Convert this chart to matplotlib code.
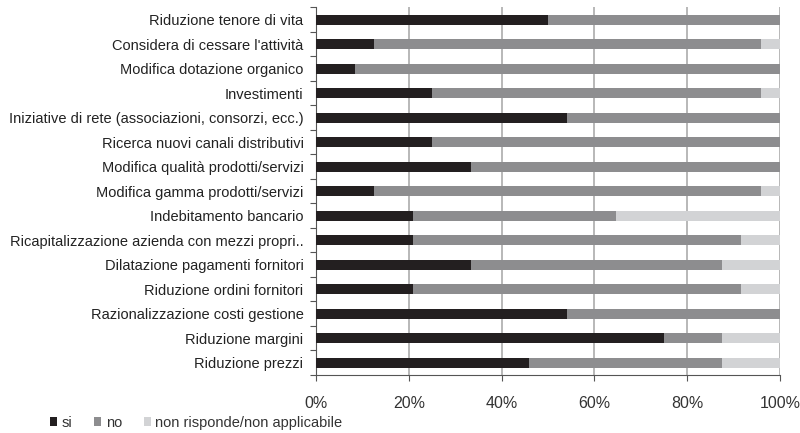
import numpy as np
import matplotlib.pyplot as plt
import matplotlib as mpl
from matplotlib.patches import Patch

plt.rcParams['font.family'] = ['Liberation Sans', 'DejaVu Sans']

categories = [
    'Riduzione tenore di vita',
    "Considera di cessare l'attività",
    'Modifica dotazione organico',
    'Investimenti',
    'Iniziative di rete (associazioni, consorzi, ecc.)',
    'Ricerca nuovi canali distributivi',
    'Modifica qualità prodotti/servizi',
    'Modifica gamma prodotti/servizi',
    'Indebitamento bancario',
    'Ricapitalizzazione azienda con mezzi propri..',
    'Dilatazione pagamenti fornitori',
    'Riduzione ordini fornitori',
    'Razionalizzazione costi gestione',
    'Riduzione margini',
    'Riduzione prezzi',
]

# percentages of respondents
si = [50.0, 12.5, 8.3, 25.0, 54.2, 25.0, 33.3, 12.5, 20.8, 20.8, 33.3, 20.8, 54.2, 75.0, 45.8]
no = [50.0, 83.3, 91.7, 70.8, 45.8, 75.0, 66.7, 83.3, 43.8, 70.9, 54.2, 70.9, 45.8, 12.5, 41.7]
nr = [0.0, 4.2, 0.0, 4.2, 0.0, 0.0, 0.0, 4.2, 35.4, 8.3, 12.5, 8.3, 0.0, 12.5, 12.5]

series = ['si', 'no', 'non risponde/non applicabile']
colors = ['#231f20', '#8d8d8f', '#d2d3d5']

fig = plt.figure(figsize=(8, 4.33), dpi=100)
ax = fig.add_axes([0.395, 0.134, 0.58, 0.849])

y = np.arange(len(categories))
left = np.zeros(len(categories))
for vals, c in zip([si, no, nr], colors):
    vals = np.array(vals)
    ax.barh(y, vals, left=left, height=0.4, color=c, zorder=3)
    left += vals

ax.set_xlim(0, 100)
ax.set_ylim(len(categories) - 0.5, -0.5)

ax.set_yticks(y)
ax.set_yticklabels(categories, fontsize=10.5, color='#222222')
ax.yaxis.set_minor_locator(mpl.ticker.FixedLocator(np.arange(-0.5, len(categories), 1)))
ax.tick_params(axis='y', which='major', length=0, pad=9)
ax.tick_params(axis='y', which='minor', length=4, width=0.8, color='#555555')

ax.set_xticks([0, 20, 40, 60, 80, 100])
ax.xaxis.set_major_formatter(mpl.ticker.FuncFormatter(lambda v, p: '%d%%' % v))
ax.tick_params(axis='x', length=4, width=0.8, color='#555555', labelsize=11.5,
               labelcolor='#333333', pad=11)

ax.grid(axis='x', color='#b8b8b8', linewidth=1.4, zorder=0)
for s in ['top', 'right']:
    ax.spines[s].set_visible(False)
ax.spines['left'].set_color('#555555')
ax.spines['bottom'].set_color('#555555')
ax.spines['left'].set_linewidth(0.8)
ax.spines['bottom'].set_linewidth(0.8)

handles = [Patch(facecolor=c, edgecolor='none') for c in colors]
fig.legend(handles, series, loc='lower left', bbox_to_anchor=(0.062, 0.008),
           ncol=3, frameon=False, fontsize=10.5, handlelength=0.5, handleheight=0.5,
           handletextpad=0.3, columnspacing=1.5, labelcolor='#333333',
           borderpad=0, borderaxespad=0)

plt.savefig('out.png', dpi=100)
